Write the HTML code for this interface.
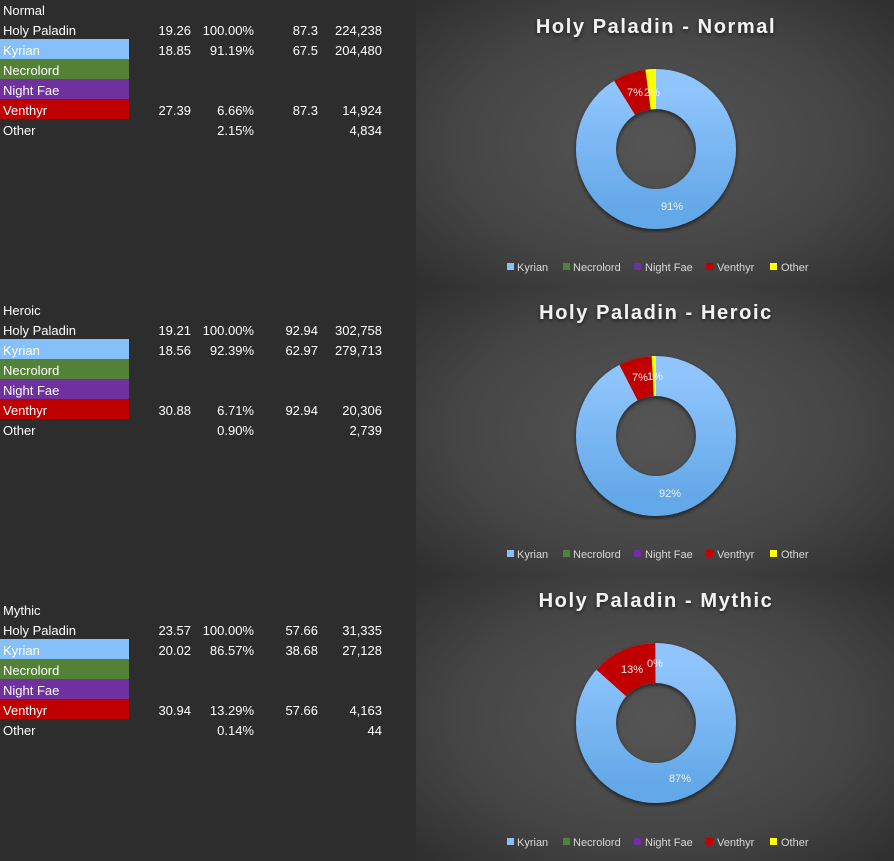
<!DOCTYPE html>
<html><head><meta charset="utf-8"><style>
html,body{margin:0;padding:0;background:#2d2d2d;}
svg{display:block}
text{font-family:"Liberation Sans",sans-serif;}
</style></head><body>
<svg width="894" height="861" viewBox="0 0 894 861" xmlns="http://www.w3.org/2000/svg">
<defs>
<radialGradient id="bg" cx="0.5" cy="0.5" r="0.7">
<stop offset="0" stop-color="#555"/><stop offset="0.6" stop-color="#454545"/><stop offset="1" stop-color="#2f2f2f"/>
</radialGradient>
<linearGradient id="ky" x1="0" y1="0" x2="0" y2="1">
<stop offset="0" stop-color="#8fc5fc"/><stop offset="1" stop-color="#64a8e8"/>
</linearGradient>
<filter id="sh" x="-20%" y="-20%" width="140%" height="140%"><feDropShadow dx="0" dy="2" stdDeviation="2" flood-color="#000" flood-opacity="0.6"/></filter>
</defs>
<rect width="894" height="861" fill="#2d2d2d"/>
<rect x="416" y="0" width="478" height="287" fill="url(#bg)"/>
<rect x="416" y="287" width="478" height="288" fill="url(#bg)"/>
<rect x="416" y="575" width="478" height="286" fill="url(#bg)"/>

<!-- Tables -->
<g font-size="13" fill="#fff">
<g transform="translate(0,0)">
<rect x="0" y="39" width="129" height="20" fill="#85c0fa"/>
<rect x="0" y="59" width="129" height="20" fill="#538135"/>
<rect x="0" y="79" width="129" height="20" fill="#7030a0"/>
<rect x="0" y="99" width="129" height="20" fill="#c00000"/>
<text x="3" y="15">Normal</text>
<text x="3" y="35">Holy Paladin</text><text x="191" y="35" text-anchor="end">19.26</text><text x="254" y="35" text-anchor="end">100.00%</text><text x="318" y="35" text-anchor="end">87.3</text><text x="382" y="35" text-anchor="end">224,238</text>
<text x="3" y="55">Kyrian</text><text x="191" y="55" text-anchor="end">18.85</text><text x="254" y="55" text-anchor="end">91.19%</text><text x="318" y="55" text-anchor="end">67.5</text><text x="382" y="55" text-anchor="end">204,480</text>
<text x="3" y="75">Necrolord</text>
<text x="3" y="95">Night Fae</text>
<text x="3" y="115">Venthyr</text><text x="191" y="115" text-anchor="end">27.39</text><text x="254" y="115" text-anchor="end">6.66%</text><text x="318" y="115" text-anchor="end">87.3</text><text x="382" y="115" text-anchor="end">14,924</text>
<text x="3" y="135">Other</text><text x="254" y="135" text-anchor="end">2.15%</text><text x="382" y="135" text-anchor="end">4,834</text>
</g>
<g transform="translate(0,300)">
<rect x="0" y="39" width="129" height="20" fill="#85c0fa"/>
<rect x="0" y="59" width="129" height="20" fill="#538135"/>
<rect x="0" y="79" width="129" height="20" fill="#7030a0"/>
<rect x="0" y="99" width="129" height="20" fill="#c00000"/>
<text x="3" y="15">Heroic</text>
<text x="3" y="35">Holy Paladin</text><text x="191" y="35" text-anchor="end">19.21</text><text x="254" y="35" text-anchor="end">100.00%</text><text x="318" y="35" text-anchor="end">92.94</text><text x="382" y="35" text-anchor="end">302,758</text>
<text x="3" y="55">Kyrian</text><text x="191" y="55" text-anchor="end">18.56</text><text x="254" y="55" text-anchor="end">92.39%</text><text x="318" y="55" text-anchor="end">62.97</text><text x="382" y="55" text-anchor="end">279,713</text>
<text x="3" y="75">Necrolord</text>
<text x="3" y="95">Night Fae</text>
<text x="3" y="115">Venthyr</text><text x="191" y="115" text-anchor="end">30.88</text><text x="254" y="115" text-anchor="end">6.71%</text><text x="318" y="115" text-anchor="end">92.94</text><text x="382" y="115" text-anchor="end">20,306</text>
<text x="3" y="135">Other</text><text x="254" y="135" text-anchor="end">0.90%</text><text x="382" y="135" text-anchor="end">2,739</text>
</g>
<g transform="translate(0,600)">
<rect x="0" y="39" width="129" height="20" fill="#85c0fa"/>
<rect x="0" y="59" width="129" height="20" fill="#538135"/>
<rect x="0" y="79" width="129" height="20" fill="#7030a0"/>
<rect x="0" y="99" width="129" height="20" fill="#c00000"/>
<text x="3" y="15">Mythic</text>
<text x="3" y="35">Holy Paladin</text><text x="191" y="35" text-anchor="end">23.57</text><text x="254" y="35" text-anchor="end">100.00%</text><text x="318" y="35" text-anchor="end">57.66</text><text x="382" y="35" text-anchor="end">31,335</text>
<text x="3" y="55">Kyrian</text><text x="191" y="55" text-anchor="end">20.02</text><text x="254" y="55" text-anchor="end">86.57%</text><text x="318" y="55" text-anchor="end">38.68</text><text x="382" y="55" text-anchor="end">27,128</text>
<text x="3" y="75">Necrolord</text>
<text x="3" y="95">Night Fae</text>
<text x="3" y="115">Venthyr</text><text x="191" y="115" text-anchor="end">30.94</text><text x="254" y="115" text-anchor="end">13.29%</text><text x="318" y="115" text-anchor="end">57.66</text><text x="382" y="115" text-anchor="end">4,163</text>
<text x="3" y="135">Other</text><text x="254" y="135" text-anchor="end">0.14%</text><text x="382" y="135" text-anchor="end">44</text>
</g>
</g>

<!-- Charts -->
<g font-weight="bold" font-size="20" fill="#f2f2f2" text-anchor="middle" letter-spacing="1.6" filter="url(#sh)">
<text x="656" y="33">Holy Paladin - Normal</text>
<text x="656" y="319">Holy Paladin - Heroic</text>
<text x="656" y="607">Holy Paladin - Mythic</text>
</g>

<!-- Donut 1 -->
<g transform="translate(656,149)">
<g filter="url(#sh)">
<circle r="60" fill="none" stroke="url(#ky)" stroke-width="40"/>
</g>
<g transform="rotate(-90)">
<circle r="60" fill="none" stroke="#c00000" stroke-width="40" stroke-dasharray="25.11 400" stroke-dashoffset="-343.78"/>
<circle r="60" fill="none" stroke="#ffff00" stroke-width="40" stroke-dasharray="8.1 400" stroke-dashoffset="-368.89"/>
</g>
</g>
<g font-size="11" fill="#eee" text-anchor="middle">
<text x="635" y="96">7%</text><text x="652" y="96">2%</text><text x="672" y="210">91%</text>
</g>

<!-- Donut 2 -->
<g transform="translate(656,436)">
<g filter="url(#sh)">
<circle r="60" fill="none" stroke="url(#ky)" stroke-width="40"/>
</g>
<g transform="rotate(-90)">
<circle r="60" fill="none" stroke="#c00000" stroke-width="40" stroke-dasharray="25.3 400" stroke-dashoffset="-348.3"/>
<circle r="60" fill="none" stroke="#ffff00" stroke-width="40" stroke-dasharray="3.4 400" stroke-dashoffset="-373.6"/>
</g>
</g>
<g font-size="11" fill="#eee" text-anchor="middle">
<text x="640" y="381">7%</text><text x="655" y="380">1%</text><text x="670" y="497">92%</text>
</g>

<!-- Donut 3 -->
<g transform="translate(656,723)">
<g filter="url(#sh)">
<circle r="60" fill="none" stroke="url(#ky)" stroke-width="40"/>
</g>
<g transform="rotate(-90)">
<circle r="60" fill="none" stroke="#c00000" stroke-width="40" stroke-dasharray="50.1 400" stroke-dashoffset="-326.4"/>
<circle r="60" fill="none" stroke="#ffff00" stroke-width="40" stroke-dasharray="0.6 400" stroke-dashoffset="-376.4"/>
</g>
</g>
<g font-size="11" fill="#eee" text-anchor="middle">
<text x="632" y="673">13%</text><text x="655" y="667">0%</text><text x="680" y="782">87%</text>
</g>

<!-- Legends -->
<g font-size="11" fill="#d9d9d9">
<g id="lg">
<rect x="507" y="263" width="7" height="7" fill="#85c0fa"/><text x="517" y="271">Kyrian</text>
<rect x="563" y="263" width="7" height="7" fill="#538135"/><text x="573" y="271">Necrolord</text>
<rect x="634" y="263" width="7" height="7" fill="#7030a0"/><text x="645" y="271">Night Fae</text>
<rect x="706" y="263" width="7" height="7" fill="#c00000"/><text x="717" y="271">Venthyr</text>
<rect x="770" y="263" width="7" height="7" fill="#ffff00"/><text x="781" y="271">Other</text>
</g>
<use href="#lg" y="287"/>
<use href="#lg" y="575"/>
</g>
</svg>
</body></html>
